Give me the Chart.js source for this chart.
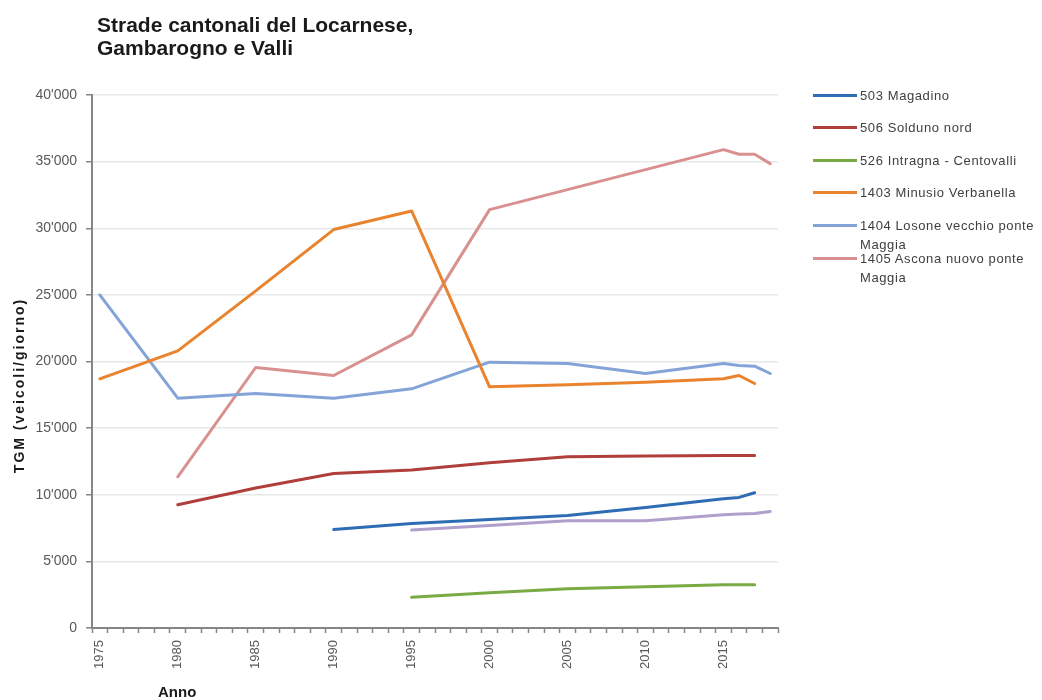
<!DOCTYPE html>
<html lang="it">
<head>
<meta charset="utf-8">
<title>Strade cantonali del Locarnese, Gambarogno e Valli</title>
<script src="https://cdn.jsdelivr.net/npm/chart.js@4/dist/chart.umd.min.js"></script>
<style>
  html, body { margin: 0; padding: 0; background: #fff; }
  #wrap { position: relative; width: 1042px; height: 700px; overflow: hidden; font-family: "Liberation Sans", Arial, sans-serif; }
  #chart { position: absolute; left: 0; top: 0; }
  #title { position: absolute; left: 97px; top: 13px; font-size: 21px; line-height: 23px; font-weight: bold; color: #1a1a1a; }
  #legend { position: absolute; left: 813px; top: 0; width: 229px; }
  .item { position: absolute; left: 0; display: flex; align-items: flex-start; }
  .swatch { width: 44px; height: 3px; margin-top: 8px; margin-right: 3px; flex: none; }
  .text { width: 178px; font-size: 13px; line-height: 19px; letter-spacing: 0.6px; color: #404040; }
</style>
</head>
<body>
<div id="wrap">
  <canvas id="chart" width="1042" height="700"></canvas>
  <div id="title">Strade cantonali del Locarnese,<br>Gambarogno e Valli</div>
  <div id="legend"></div>
</div>
<script>
// ---- Data (TGM, veicoli/giorno) ----
const years = Array.from({ length: 44 }, (_, i) => String(1975 + i)); // 1975..2018

const yearsMagadino = [1990, 1995, 2000, 2005, 2010, 2015, 2016, 2017];
const tgmMagadino   = [7400, 7850, 8150, 8450, 9050, 9700, 9800, 10150];

const yearsSolduno = [1980, 1985, 1990, 1995, 2000, 2005, 2010, 2015, 2016, 2017];
const tgmSolduno   = [9250, 10500, 11600, 11850, 12400, 12850, 12900, 12950, 12950, 12950];

const yearsIntragna = [1995, 2000, 2005, 2010, 2015, 2016, 2017];
const tgmIntragna   = [2300, 2650, 2950, 3100, 3250, 3250, 3250];

const yearsMinusio = [1975, 1980, 1985, 1990, 1995, 2000, 2005, 2010, 2015, 2016, 2017];
const tgmMinusio   = [18700, 20800, 25300, 29900, 31300, 18100, 18250, 18450, 18700, 18950, 18350];

const yearsLosone = [1975, 1980, 1985, 1990, 1995, 2000, 2005, 2010, 2015, 2016, 2017, 2018];
const tgmLosone   = [25000, 17250, 17600, 17250, 17950, 19950, 19850, 19100, 19850, 19700, 19650, 19100];

const yearsAscona = [1980, 1985, 1990, 1995, 2000, 2005, 2010, 2015, 2016, 2017, 2018];
const tgmAscona   = [11350, 19550, 18950, 22000, 31400, 32900, 34400, 35900, 35550, 35550, 34850];

// series shown without legend entry
const yearsAltro = [1995, 2000, 2005, 2010, 2015, 2016, 2017, 2018];
const tgmAltro   = [7350, 7700, 8050, 8050, 8500, 8550, 8600, 8750];

const yTicks = [0, 5000, 10000, 15000, 20000, 25000, 30000, 35000, 40000];
const yTitle = 'TGM (veicoli/giorno)';
const xTitle = 'Anno';

function pts(ys, vs) {
  return ys.map((y, i) => ({ x: String(y), y: vs[i] }));
}

function fmt(v) {
  return String(v).replace(/\B(?=(\d{3})+(?!\d))/g, "'");
}

function line(label, color, ys, vs) {
  return {
    label: label,
    data: pts(ys, vs),
    borderColor: color,
    backgroundColor: color,
    borderWidth: 3,
    pointRadius: 0,
    tension: 0,
    borderJoinStyle: 'round',
    borderCapStyle: 'round'
  };
}

const FONT = '"Liberation Sans", Arial, sans-serif';

// axis titles placed like in the original (not centered)
const axisTitles = {
  id: 'axisTitles',
  afterDraw(chart) {
    const { ctx, chartArea } = chart;
    ctx.save();
    ctx.fillStyle = '#1a1a1a';
    ctx.font = 'bold 14px ' + FONT;
    ctx.letterSpacing = '2px';
    ctx.textAlign = 'center';
    ctx.textBaseline = 'middle';
    ctx.translate(20, (chartArea.top + chartArea.bottom) / 2 + 24);
    ctx.rotate(-Math.PI / 2);
    ctx.fillText(yTitle, 0, 0);
    ctx.restore();

    ctx.save();
    ctx.fillStyle = '#1a1a1a';
    ctx.font = 'bold 15px ' + FONT;
    ctx.textAlign = 'left';
    ctx.textBaseline = 'alphabetic';
    ctx.fillText(xTitle, chartArea.left + 66, 697);
    ctx.restore();
  }
};

const chart = new Chart(document.getElementById('chart'), {
  type: 'line',
  data: {
    labels: years,
    datasets: [
      line('503 Magadino', '#2E6DB4', yearsMagadino, tgmMagadino),
      line('506 Solduno nord', '#B03E3B', yearsSolduno, tgmSolduno),
      line('526 Intragna - Centovalli', '#79AA43', yearsIntragna, tgmIntragna),
      line('1403 Minusio Verbanella', '#E9832E', yearsMinusio, tgmMinusio),
      line('1404 Losone vecchio ponte Maggia', '#84A4D7', yearsLosone, tgmLosone),
      line('1405 Ascona nuovo ponte Maggia', '#D8918F', yearsAscona, tgmAscona),
      line('', '#B09FCB', yearsAltro, tgmAltro)
    ]
  },
  options: {
    responsive: false,
    animation: false,
    layout: { padding: { left: 0, top: 95, right: 264, bottom: 0 } },
    plugins: {
      legend: { display: false },
      title: { display: false },
      tooltip: { enabled: false }
    },
    scales: {
      x: {
        type: 'category',
        offset: true,
        afterFit(scale) { scale.height = 72; },
        grid: {
          drawOnChartArea: false,
          offset: true,
          tickLength: 5,
          tickColor: '#868686',
          tickWidth: 1.5
        },
        border: { color: '#868686', width: 2 },
        ticks: {
          autoSkip: false,
          minRotation: 90,
          maxRotation: 90,
          padding: 7,
          color: '#595959',
          font: { family: FONT, size: 13 },
          callback(val) {
            const y = Number(this.getLabelForValue(val));
            return (y - 1975) % 5 === 0 ? String(y) : '';
          }
        }
      },
      y: {
        min: 0,
        max: 40000,
        afterFit(scale) { scale.width = 92; },
        afterBuildTicks(scale) { scale.ticks = yTicks.map(v => ({ value: v })); },
        grid: {
          color: '#E8E8E8',
          lineWidth: 1.5,
          tickLength: 6,
          tickColor: '#868686',
          tickWidth: 1.5
        },
        border: { color: '#868686', width: 2 },
        ticks: {
          padding: 9,
          color: '#595959',
          font: { family: FONT, size: 14 },
          callback: v => fmt(v)
        }
      }
    }
  },
  plugins: [axisTitles]
});

// ---- Legend (HTML, labels wrap like the original) ----
const legendEl = document.getElementById('legend');
chart.data.datasets.filter(ds => ds.label).forEach((ds, i) => {
  const item = document.createElement('div');
  item.className = 'item';
  item.style.top = (95 + i * 32.6 - 9.5) + 'px';
  const sw = document.createElement('div');
  sw.className = 'swatch';
  sw.style.background = ds.borderColor;
  const tx = document.createElement('div');
  tx.className = 'text';
  tx.textContent = ds.label;
  item.appendChild(sw);
  item.appendChild(tx);
  legendEl.appendChild(item);
});
</script>
</body>
</html>
